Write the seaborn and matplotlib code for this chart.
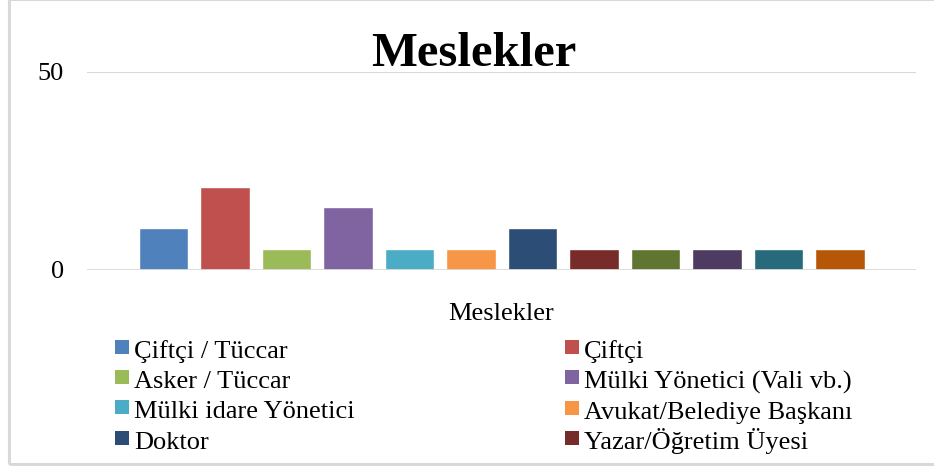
import numpy as np
import seaborn as sns
import matplotlib.pyplot as plt
from matplotlib.lines import Line2D
from matplotlib.patches import Rectangle

# Veriler (yüzde, n=19)
meslekler = ['Çiftçi / Tüccar', 'Çiftçi', 'Asker / Tüccar', 'Mülki Yönetici (Vali vb.)',
             'Mülki idare Yönetici', 'Avukat/Belediye Başkanı', 'Doktor', 'Yazar/Öğretim Üyesi',
             'Diğer 1', 'Diğer 2', 'Diğer 3', 'Diğer 4']
yuzde = [10.53, 21.05, 5.26, 15.79, 5.26, 5.26, 10.53, 5.26, 5.26, 5.26, 5.26, 5.26]
renkler = ['#4F81BD', '#C0504D', '#9BBB59', '#8064A2', '#4BACC6', '#F79646',
           '#2C4D75', '#772C2A', '#5F7530', '#4D3B62', '#276A7C', '#B65708']
# legend is cut off after 8 entries in the original
n_legend = 8

sns.set_theme(style='white')
plt.rcParams['font.family'] = ['Liberation Serif', 'DejaVu Serif']
plt.rcParams['text.color'] = 'black'
plt.rcParams['axes.labelcolor'] = 'black'
plt.rcParams['ytick.color'] = 'black'

W, H = 934, 466
fig = plt.figure(figsize=(W/100, H/100), dpi=100)
ax = fig.add_axes([87/W, (H-270)/H, (916-87)/W, 198/H])

sns.barplot(x=meslekler, y=yuzde, hue=meslekler, palette=renkler, width=0.8,
            saturation=1, legend=False, ax=ax)

ax.set_ylim(0, 50)
ax.set_xlim(-1.244, 12.236)
ax.set_yticks([0, 50])
ax.set_yticklabels(['0', '50'], fontsize=19)
ax.set_xticks([])
ax.tick_params(axis='y', length=0, pad=16.5)
for s in ['top', 'right', 'left', 'bottom']:
    ax.spines[s].set_visible(False)
ax.axhline(50, color='#D9D9D9', lw=1.5, zorder=0)
ax.axhline(0, color='#D9D9D9', lw=2, zorder=3)

ax.set_xlabel('Meslekler', fontsize=19)
ax.xaxis.set_label_coords(0.5, -0.165)
ax.set_ylabel('')

fig.text(474/W, 1 - 66/H, 'Meslekler', fontsize=35, fontweight='bold',
         ha='center', va='baseline')

# Legend (Excel fills row by row -> reorder for matplotlib column filling)
handles = [Line2D([], [], marker='s', ls='none', markersize=10, markeredgewidth=0,
                  color=renkler[i]) for i in range(n_legend)]
order = [0, 2, 4, 6, 1, 3, 5, 7]
fig.legend([handles[i] for i in order], [meslekler[i] for i in order],
           ncol=2, loc='upper left', bbox_to_anchor=(113/W, 1 - 336/H),
           frameon=False, fontsize=19, handlelength=0.68, handleheight=1.137,
           handletextpad=0.11, labelspacing=0.125, columnspacing=7.9,
           borderpad=0, borderaxespad=0)

# chart border
fig.patches.append(Rectangle((8.5/W, 2.5/H), 1.0, (H-1.5)/H, transform=fig.transFigure,
                             fill=False, edgecolor='#D9D9D9', lw=2.2, figure=fig))

fig.savefig('out.png', dpi=100)
